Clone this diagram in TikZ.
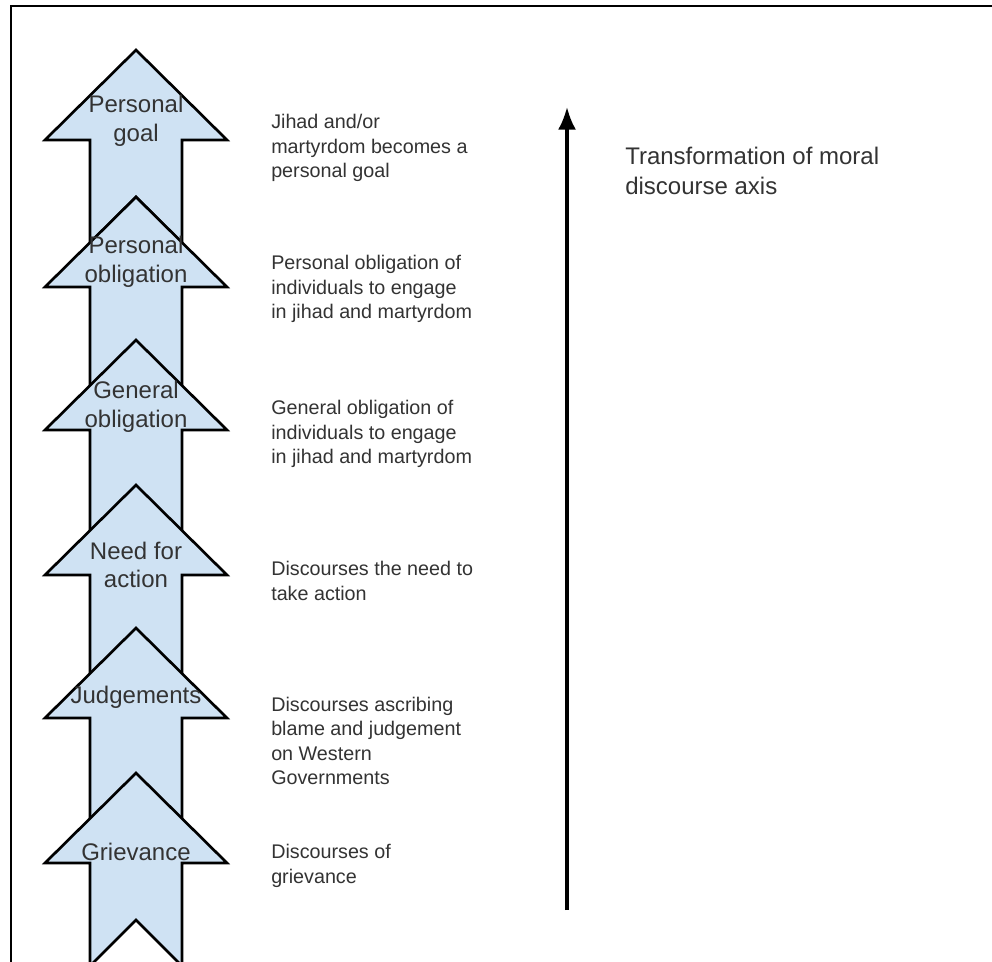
\documentclass[tikz,border=0pt]{standalone}
\usepackage{fontspec}
\setmainfont{Liberation Sans}
\usetikzlibrary{positioning,arrows.meta}
\definecolor{stageblue}{HTML}{CFE2F3}
\tikzset{
    stage/.style = {
        draw=black,
        fill=stageblue,
        line width=2pt,
        line join=miter
    },
    stagelabel/.style = {
        align=center,
        text=black!80,
        inner sep=0pt,
        font=\fontsize{18}{21.5}\selectfont
    },
    description/.style = {
        anchor=west,
        align=left,
        text=black!80,
        inner sep=0pt,
        font=\fontsize{14.8}{18.4}\selectfont
    },
    axislabel/.style = {
        anchor=west,
        align=left,
        text=black!80,
        inner sep=0pt,
        font=\fontsize{18}{22.5}\selectfont
    },
    >={Latex[length=17pt,width=13.5pt]},
}

\begin{document}
\begin{tikzpicture}[x=0.75pt, y=-0.75pt]
            \clip (0,0) rectangle (992,962);
            \fill[white] (0,0) rectangle (992,962);
            \draw[line width=1.5pt] (11,6) rectangle (1010,1010);

            % stacked chevron arrows, top one first
            \foreach \t in {50,197,340,485,628,773}
                \draw[stage] (136,\t) -- ++(91,90) -- ++(-45,0) -- ++(0,103)
                    -- ++(-46,-46) -- ++(-46,46) -- ++(0,-103) -- ++(-45,0) -- cycle;

            \node[stagelabel] (goal) at (136,121) {Personal\\goal};
            \node[stagelabel] (personal) at (136,262) {Personal\\obligation};
            \node[stagelabel] (general) at (136,407) {General\\obligation};
            \node[stagelabel] (need) at (136,565) {Need for\\action};
            \node[stagelabel] (judge) at (136,697) {Judgements};
            \node[stagelabel] (grievance) at (136,852) {Grievance};

            \node[description] (goaltext) at (271,148) {Jihad and/or\\martyrdom becomes a\\personal goal};
            \node[description] (personaltext) at (271,289) {Personal obligation of\\individuals to engage\\in jihad and martyrdom};
            \node[description] (generaltext) at (271,434) {General obligation of\\individuals to engage\\in jihad and martyrdom};
            \node[description] (needtext) at (271,581) {Discourses the need to\\take action};
            \node[description] (judgetext) at (271,741) {Discourses ascribing\\blame and judgement\\on Western\\Governments};
            \node[description] (grievancetext) at (271,866) {Discourses of\\grievance};

            \coordinate (axisbottom) at (567,910);
            \coordinate (axistop) at (567,107);
            \path[draw, ->, line width=2.4pt] (axisbottom) -- (axistop);
            \node[axislabel] (axistext) at (625,171) {Transformation of moral\\discourse axis};

        \end{tikzpicture}
\end{document}
